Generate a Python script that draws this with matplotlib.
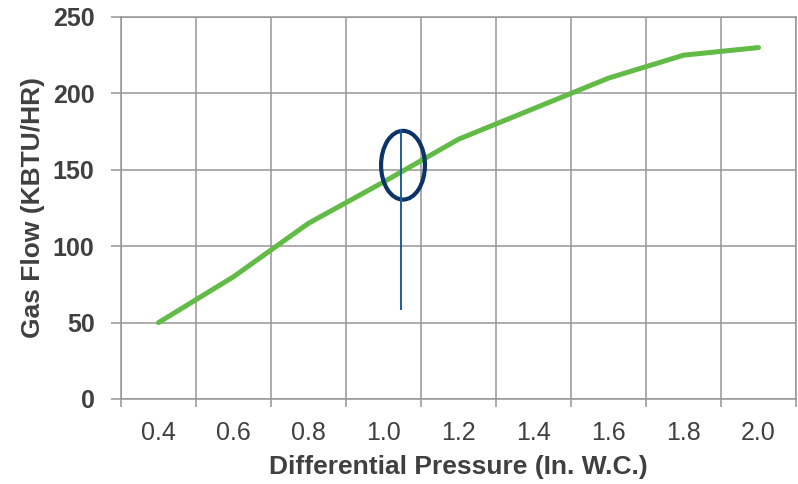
import matplotlib
matplotlib.use("Agg")
import matplotlib.pyplot as plt
from matplotlib.patches import Ellipse
import numpy as np

plt.rcParams['font.family'] = ['Liberation Sans', 'DejaVu Sans']

# chart data
pressure = [0.4, 0.6, 0.8, 1.0, 1.2, 1.4, 1.6, 1.8, 2.0]
gas_flow = [50, 80, 115, 142, 170, 190, 210, 225, 230]
tick_labels = ["0.4", "0.6", "0.8", "1.0", "1.2", "1.4", "1.6", "1.8", "2.0"]
y_ticks = [0, 50, 100, 150, 200, 250]

# annotation (circled reading)
mark_x = 1.046
mark_y0, mark_y1 = 59, 176
ring_center = (1.052, 153)
ring_w, ring_h = 0.117, 45

text_col = "#404040"
grid_col = "#969696"

fig = plt.figure(figsize=(7.98, 4.84), dpi=100)
ax = fig.add_axes([121/798, 1-399/484, 675/798, 382/484])

ax.plot(pressure, gas_flow, color="#62BB46", lw=3.6, solid_capstyle="round",
        solid_joinstyle="round", zorder=3)

ax.add_patch(Ellipse(ring_center, ring_w, ring_h, fill=False,
                     edgecolor="#0D3466", lw=3.0, zorder=4))
ax.plot([mark_x, mark_x], [mark_y0, mark_y1], color="#1F5AA0", lw=1.4, zorder=5)

ax.set_xlim(0.3, 2.1)
ax.set_ylim(0, 250)

bounds = np.arange(0.3, 2.11, 0.2)
ax.set_xticks(bounds)
ax.set_xticklabels([])
ax.set_xticks(pressure, minor=True)
ax.set_xticklabels(tick_labels, minor=True)
ax.set_yticks(y_ticks)

ax.tick_params(axis="x", which="major", length=6, width=1.1, color=grid_col)
ax.tick_params(axis="x", which="minor", length=0, pad=16, labelsize=18,
               labelcolor=text_col)
ax.tick_params(axis="y", length=7, width=1.1, color=grid_col, pad=12,
               labelsize=18, labelcolor=text_col)
for lab in ax.get_yticklabels():
    lab.set_fontweight("bold")

ax.grid(True, which="major", color=grid_col, lw=1.1, zorder=0)
ax.set_axisbelow(True)
for s in ax.spines.values():
    s.set_color(grid_col)
    s.set_linewidth(1.1)

ax.set_xlabel("Differential Pressure (In. W.C.)", fontsize=19,
              fontweight="bold", color=text_col, labelpad=7)
ax.set_ylabel("Gas Flow (KBTU/HR)", fontsize=19, fontweight="bold",
              color=text_col, labelpad=6)

fig.savefig("out.png", dpi=100)
